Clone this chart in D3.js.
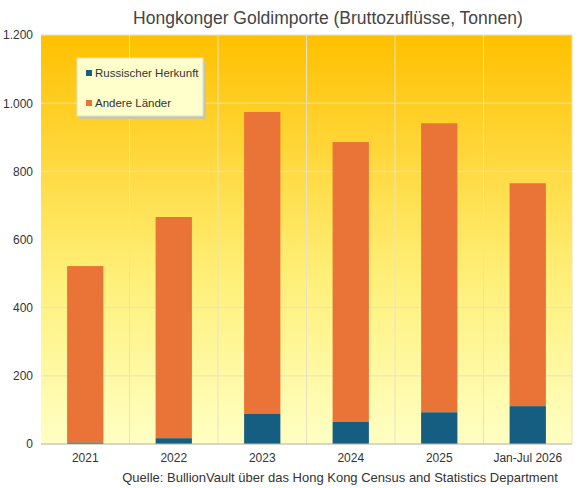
<!DOCTYPE html>
<html><head><meta charset="utf-8">
<script src="https://cdn.jsdelivr.net/npm/d3@7"></script>
<style>body{margin:0;background:#fff}</style></head>
<body><svg id="c" width="580" height="488"></svg>
<script>
const categories=["2021","2022","2023","2024","2025","Jan-Jul 2026"];
const russian=[4,17,88,65,93,111];
const others=[518,649,886,821,848,654];
const yTicks=[0,200,400,600,800,1000,1200];
const yTickLabels=["0","200","400","600","800","1.000","1.200"];

const svg=d3.select("#c");
const m={l:41,r:572,t:35,b:444};
const x=d3.scaleBand().domain(categories).range([m.l,m.r]).paddingInner(0.59).paddingOuter(0.295);
const xb=d3.scaleBand().domain(categories).range([m.l,m.r]);
const y=d3.scaleLinear().domain([0,1200]).range([m.b,m.t]);
const defs=svg.append("defs");
const g=defs.append("linearGradient").attr("id","bg").attr("x1",0).attr("y1",0).attr("x2",0).attr("y2",1);
g.append("stop").attr("offset","0%").attr("stop-color","#ffc000");
g.append("stop").attr("offset","60%").attr("stop-color","#fff07a");
g.append("stop").attr("offset","100%").attr("stop-color","#ffffc4");
svg.append("rect").attr("x",m.l).attr("y",m.t).attr("width",m.r-m.l).attr("height",m.b-m.t).attr("fill","url(#bg)");
const grid=svg.append("g").attr("stroke","#e8e2c0").attr("stroke-width",1);
yTicks.forEach(t=>grid.append("line").attr("x1",m.l).attr("x2",m.r).attr("y1",y(t)).attr("y2",y(t)));
categories.forEach((c,i)=>{if(i>0)grid.append("line").attr("x1",xb(c)).attr("x2",xb(c)).attr("y1",m.t).attr("y2",m.b);});
grid.append("line").attr("x1",m.r).attr("x2",m.r).attr("y1",m.t).attr("y2",m.b);
svg.append("g").selectAll("rect").data(categories).join("rect")
 .attr("x",d=>x(d)).attr("width",x.bandwidth())
 .attr("y",(d,i)=>y(russian[i]+others[i])).attr("height",(d,i)=>y(russian[i])-y(russian[i]+others[i])).attr("fill","#ea7437");
svg.append("g").selectAll("rect").data(categories).join("rect")
 .attr("x",d=>x(d)).attr("width",x.bandwidth())
 .attr("y",(d,i)=>y(russian[i])).attr("height",(d,i)=>y(0)-y(russian[i])).attr("fill","#155e82");
svg.append("line").attr("x1",m.l).attr("x2",m.r).attr("y1",m.b).attr("y2",m.b).attr("stroke","#bbb");
const ya=svg.append("g").attr("transform",`translate(${m.l},0)`).call(d3.axisLeft(y).tickValues(yTicks).tickFormat((d,i)=>yTickLabels[i]).tickSize(0).tickPadding(8));
ya.select(".domain").remove();
ya.selectAll("text").attr("font-family","Arial, Liberation Sans").attr("font-size",12).attr("fill","#333");
const xa=svg.append("g").attr("transform",`translate(0,${m.b})`).call(d3.axisBottom(xb).tickSize(0).tickPadding(9));
xa.select(".domain").remove();
xa.selectAll("text").attr("font-family","Arial, Liberation Sans").attr("font-size",12).attr("fill","#333");
svg.append("text").attr("x",328).attr("y",24).attr("text-anchor","middle").attr("font-family","Arial, Liberation Sans").attr("font-size",17.5).attr("fill","#444").text("Hongkonger Goldimporte (Bruttozuflüsse, Tonnen)");
svg.append("text").attr("x",340).attr("y",482).attr("text-anchor","middle").attr("font-family","Arial, Liberation Sans").attr("font-size",13).attr("fill","#333").text("Quelle: BullionVault über das Hong Kong Census and Statistics Department");
svg.append("rect").attr("x",80).attr("y",61).attr("width",126).attr("height",58).attr("fill","#c8c8a0");
svg.append("rect").attr("x",77).attr("y",58).attr("width",126).attr("height",58).attr("fill","#ffffcc").attr("stroke","#ddd");
const leg=[["Russischer Herkunft","#155e82"],["Andere Länder","#ea7437"]];
leg.forEach((l,i)=>{
 svg.append("rect").attr("x",86).attr("y",70+i*30).attr("width",6).attr("height",6).attr("fill",l[1]);
 svg.append("text").attr("x",95).attr("y",77+i*30).attr("font-family","Arial, Liberation Sans").attr("font-size",11.5).attr("fill","#333").text(l[0]);
});
</script></body></html>
